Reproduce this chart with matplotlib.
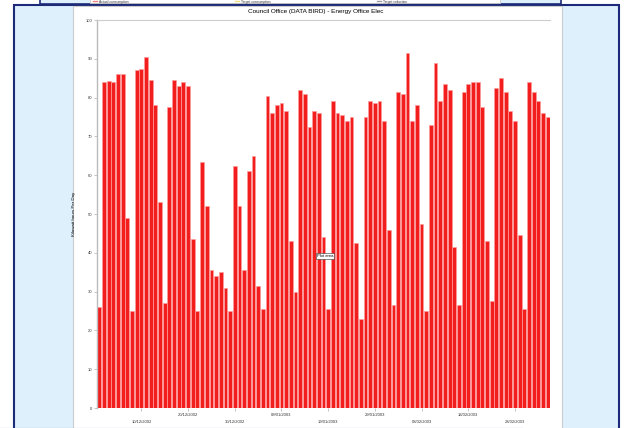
import matplotlib.pyplot as plt
from matplotlib.patches import Rectangle
from matplotlib.lines import Line2D
import pandas as pd

# ---------------- DATA ----------------
TITLE = "Council Office (DATA BIRD) - Energy Office Elec"
Y_LABEL = "Kilowatt hours Per Day"
days = pd.date_range("2002-12-01", "2003-03-07", freq="D")
kwh = [
    26, 84, 84.3, 84, 86, 86.2, 49, 25,
    87, 87.5, 90.5, 84.5, 78, 53, 27,
    77.5, 84.5, 83, 84, 83, 43.5, 25,
    63.5, 52, 35.5, 34, 35, 31, 25,
    62.5, 52, 35.5, 61, 65, 31.5, 25.5,
    80.5, 76, 78, 78.5, 76.5, 43, 30,
    82, 81, 72.5, 76.5, 76, 44, 25.5,
    79, 76, 75.5, 74, 75, 42.5, 23,
    75, 79, 78.5, 79, 74, 46, 26.5,
    81.5, 81, 91.5, 74, 78, 47.5, 25,
    73, 88.8, 79, 83.5, 82, 41.5, 26.5,
    81.5, 83.5, 84, 84, 77.5, 43, 27.5,
    82.5, 85, 81.5, 76.5, 74, 44.5, 25.5,
    84, 81.5, 79, 76, 75,
]
tick_dates = ["10/12/2002", "20/12/2002", "30/12/2002", "09/01/2003", "19/01/2003",
              "29/01/2003", "08/02/2003", "18/02/2003", "28/02/2003"]
y_ticks = list(range(0, 101, 10))
legend_items = ["Actual consumption", "Target consumption", "Target reduction"]
legend_colors = ["#f08080", "#f0e080", "#a0a0a0"]
# --------------------------------------

W, H = 626, 428
LIGHT_BLUE = "#ddf0fc"
DARK_BLUE = "#1d2a78"
FONT = "Liberation Sans"

fig = plt.figure(figsize=(W / 100, H / 100), dpi=100)
fig.patch.set_facecolor("white")


def box(x0, y0, x1, y1, **kw):
    # rectangle given in image pixels (origin top-left)
    fig.add_artist(Rectangle((x0 / W, 1 - y1 / H), (x1 - x0) / W, (y1 - y0) / H,
                             transform=fig.transFigure, zorder=-2, **kw))


def hline(x0, x1, y, **kw):
    fig.add_artist(Line2D([x0 / W, x1 / W], [1 - y / H, 1 - y / H],
                          transform=fig.transFigure, zorder=-1, **kw))


# strip of the chart above (cut off)
box(40, -6, 561, 4, facecolor=LIGHT_BLUE, edgecolor=DARK_BLUE, lw=1.2)
box(90, -6, 500, 3, facecolor="white", edgecolor="#c8c8c8", lw=0.6)
for i, (name, c) in enumerate(zip(legend_items, legend_colors)):
    x = 93 + i * 142
    hline(x, x + 4, 1.2, color=c, lw=1.0)
    fig.text((x + 6) / W, 1 - 0.3 / H, name, fontsize=2.4, family=FONT,
             va="top", ha="left", color="#333333")

# main frame
box(14, 4.5, 619, 430, facecolor=LIGHT_BLUE, edgecolor=DARK_BLUE, lw=1.5)
box(72.5, 5.5, 562, 430, facecolor="white", edgecolor="#cccccc", lw=0.8)
hline(0, 522, 427.5, color="#6a78a8", lw=0.8)

# chart axes
ax = fig.add_axes([97 / W, 1 - 408 / H, (550 - 97) / W, (408 - 20) / H])
ax.set_zorder(5)
ax.set_facecolor("none")
x = list(range(len(kwh)))
ax.bar(x, kwh, width=0.82, color="#f21d1d", edgecolor="#ff9c9c", linewidth=0.5)

ax.set_xlim(-0.5, len(kwh) - 0.5)
ax.set_ylim(0, 100)
ax.set_yticks(y_ticks)
ax.set_yticklabels([str(v) for v in y_ticks], fontsize=3, family=FONT, color="#333333")

tick_pos = [days.get_loc(d) for d in pd.to_datetime(tick_dates, dayfirst=True)]
ax.set_xticks(tick_pos)
ax.set_xticklabels([("\n" if i % 2 == 0 else "") + t for i, t in enumerate(tick_dates)],
                   fontsize=3, family=FONT, color="#333333", linespacing=2.2)
ax.tick_params(axis="both", length=2, width=0.4, color="#999999", pad=1.5)

for s in ["right", "bottom"]:
    ax.spines[s].set_visible(False)
ax.spines["left"].set_color("#bbbbbb")
ax.spines["top"].set_color("#cccccc")
ax.spines["left"].set_linewidth(1.0)
ax.spines["top"].set_linewidth(0.8)

ax.set_ylabel(Y_LABEL, fontsize=3.2, family=FONT, labelpad=7)
fig.text(316 / W, 1 - 12 / H, TITLE, fontsize=4.6, family=FONT, ha="center", va="center")

ax.text(48.3, 39.2, "Plot area", fontsize=3, family=FONT, ha="center", va="center",
        bbox=dict(boxstyle="square,pad=0.25", facecolor="white", edgecolor="#333333", lw=0.4))

fig.savefig("out.png", dpi=100)
